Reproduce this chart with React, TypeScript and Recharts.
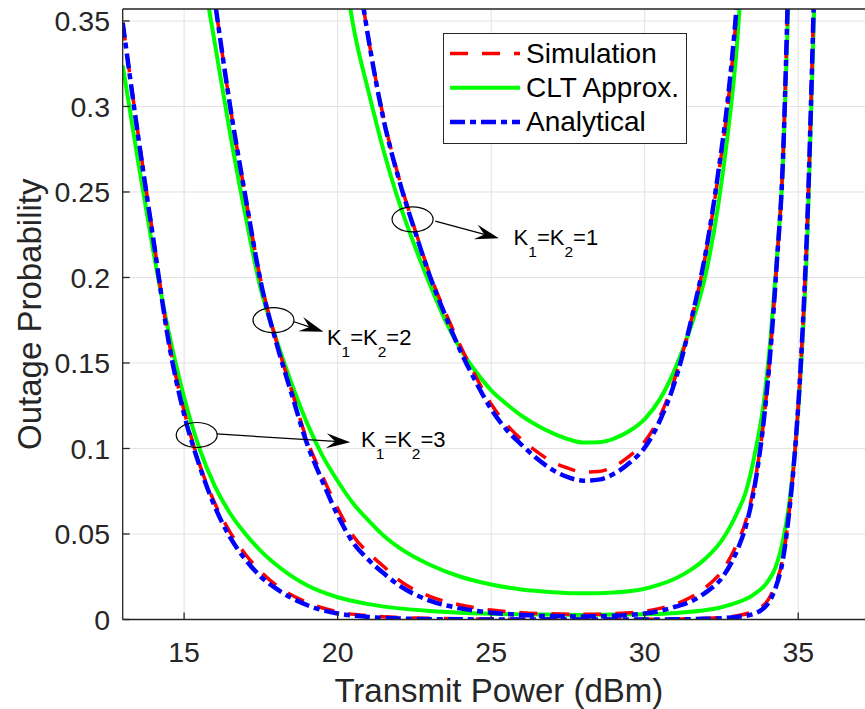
import React from "react";
import {
  LineChart,
  Line,
  XAxis,
  YAxis,
  CartesianGrid,
  ReferenceDot,
  ReferenceLine,
} from "recharts";

const xTicks = [15, 20, 25, 30, 35];
const yTicks = [0, 0.05, 0.1, 0.15, 0.2, 0.25, 0.3, 0.35];

// K1 = K2 = 3
const k3Power = [13, 13.5, 14, 14.5, 15, 15.5, 16, 16.5, 17, 17.5, 18, 19, 20, 21, 22, 23, 24, 26, 28, 30, 31, 32, 32.5, 33, 33.5, 34, 34.25, 34.5, 34.7, 34.9, 35.1, 35.3, 35.5, 35.7];
const k3Sim = [0.349, 0.284, 0.223, 0.163, 0.122, 0.091, 0.068, 0.051, 0.038, 0.028, 0.02, 0.01, 0.0045, 0.0022, 0.0012, 0.0007, 0.0004, 0.0002, 0.0002, 0.0002, 0.0003, 0.0007, 0.0012, 0.0022, 0.0045, 0.011, 0.02, 0.036, 0.062, 0.1, 0.155, 0.235, 0.357, 0.5];
const k3Clt = [0.324, 0.268, 0.215, 0.168, 0.13, 0.1, 0.078, 0.062, 0.05, 0.04, 0.032, 0.02, 0.013, 0.009, 0.0065, 0.005, 0.004, 0.003, 0.0027, 0.003, 0.0038, 0.0055, 0.0072, 0.0098, 0.014, 0.022, 0.03, 0.046, 0.067, 0.1, 0.15, 0.225, 0.345, 0.5];
const k3Ana = [0.349, 0.283, 0.222, 0.162, 0.12, 0.09, 0.066, 0.048, 0.035, 0.025, 0.018, 0.0085, 0.0035, 0.0015, 0.0006, 0.0002, 0.0001, 0, 0, 0, 0.0001, 0.0004, 0.0008, 0.0015, 0.003, 0.009, 0.018, 0.035, 0.062, 0.1, 0.155, 0.235, 0.357, 0.5];

// K1 = K2 = 2
const k2Power = [15.5, 16, 16.5, 17, 17.5, 18, 18.5, 19, 19.5, 20, 20.5, 21, 21.5, 22, 23, 24, 25, 26, 27, 28, 29, 30, 30.5, 31, 31.5, 32, 32.5, 33, 33.3, 33.6, 33.9, 34.1, 34.3, 34.5, 34.65, 34.8];
const k2Sim = [0.43, 0.362, 0.3, 0.247, 0.198, 0.163, 0.134, 0.105, 0.084, 0.065, 0.049, 0.039, 0.031, 0.023, 0.0135, 0.0085, 0.0055, 0.004, 0.0033, 0.003, 0.0034, 0.0048, 0.0065, 0.009, 0.013, 0.019, 0.028, 0.044, 0.058, 0.082, 0.12, 0.158, 0.208, 0.268, 0.357, 0.46];
const k2Clt = [0.39, 0.337, 0.284, 0.236, 0.193, 0.164, 0.138, 0.115, 0.096, 0.081, 0.068, 0.058, 0.049, 0.042, 0.032, 0.025, 0.0205, 0.0175, 0.016, 0.0153, 0.0158, 0.018, 0.0205, 0.024, 0.029, 0.036, 0.046, 0.062, 0.075, 0.098, 0.13, 0.165, 0.21, 0.265, 0.345, 0.45];
const k2Ana = [0.43, 0.362, 0.3, 0.247, 0.197, 0.162, 0.132, 0.103, 0.081, 0.061, 0.045, 0.035, 0.027, 0.02, 0.011, 0.0065, 0.004, 0.0027, 0.002, 0.0018, 0.0022, 0.0035, 0.005, 0.0075, 0.0105, 0.016, 0.024, 0.04, 0.055, 0.08, 0.12, 0.158, 0.208, 0.268, 0.357, 0.46];

// K1 = K2 = 1
const k1Power = [20, 20.5, 21, 21.5, 22, 22.5, 23, 23.5, 24, 24.5, 25, 25.5, 26, 26.5, 27, 27.5, 28, 28.5, 29, 29.5, 30, 30.5, 31, 31.5, 32, 32.4, 32.7, 33, 33.3];
const k1Sim = [0.47, 0.4, 0.34, 0.293, 0.258, 0.229, 0.202, 0.18, 0.16, 0.142, 0.126, 0.114, 0.105, 0.098, 0.092, 0.0885, 0.0862, 0.0865, 0.0895, 0.0955, 0.104, 0.119, 0.142, 0.174, 0.215, 0.26, 0.3, 0.357, 0.44];
const k1Clt = [0.41, 0.348, 0.309, 0.274, 0.244, 0.219, 0.196, 0.175, 0.158, 0.145, 0.134, 0.126, 0.119, 0.1135, 0.109, 0.1055, 0.1035, 0.1037, 0.1058, 0.1102, 0.1172, 0.129, 0.147, 0.171, 0.203, 0.243, 0.283, 0.335, 0.42];
const k1Ana = [0.47, 0.4, 0.34, 0.292, 0.257, 0.228, 0.201, 0.178, 0.157, 0.139, 0.123, 0.111, 0.102, 0.094, 0.0875, 0.0832, 0.0812, 0.0818, 0.0852, 0.0915, 0.1005, 0.1165, 0.14, 0.174, 0.216, 0.262, 0.303, 0.36, 0.44];

// annotation anchors, in data units
const notes = [
  { k: "1", ring: [22.44, 0.234], from: [23.18, 0.233], to: [25.25, 0.2229], text: [25.73, 0.219] },
  { k: "2", ring: [17.91, 0.1751], from: [18.58, 0.1741], to: [19.54, 0.1683], text: [19.65, 0.1605] },
  { k: "3", ring: [15.41, 0.1079], from: [16.06, 0.1085], to: [20.41, 0.1036], text: [20.76, 0.1011] },
];

const FONT = "'Liberation Sans', Arial, Helvetica, sans-serif";
const AXIS = "#262626";
const RED = "#ff0000";
const GREEN = "#00ff00";
const BLUE = "#0000ff";
const SIM_DASH = "18 14";
const ANA_DASH = "15 5 6 5";

const pts = (xs: number[], ys: number[]) => xs.map((x, i) => ({ x, y: ys[i] }));

const curves = [
  { key: "k3", x: k3Power, sim: k3Sim, clt: k3Clt, ana: k3Ana },
  { key: "k2", x: k2Power, sim: k2Sim, clt: k2Clt, ana: k2Ana },
  { key: "k1", x: k1Power, sim: k1Sim, clt: k1Clt, ana: k1Ana },
];

const Arrow = (p: any) => {
  const { x1, y1, x2, y2 } = p;
  const a = Math.atan2(y2 - y1, x2 - x1);
  const ux = Math.cos(a);
  const uy = Math.sin(a);
  const L = 24;
  const W = 7.5;
  const N = 15;
  const bx = x2 - ux * L;
  const by = y2 - uy * L;
  const nx = x2 - ux * N;
  const ny = y2 - uy * N;
  const poly = [
    [x2, y2],
    [bx - uy * W, by + ux * W],
    [nx, ny],
    [bx + uy * W, by - ux * W],
  ]
    .map((q) => q.join(","))
    .join(" ");
  return (
    <g>
      <line x1={x1} y1={y1} x2={nx} y2={ny} stroke="#000" strokeWidth={1.2} />
      <polygon points={poly} fill="#000" />
    </g>
  );
};

const Ring = (p: any) => (
  <ellipse cx={p.cx} cy={p.cy} rx={20.5} ry={12.5} fill="none" stroke="#000" strokeWidth={1.2} />
);

const noteText = (k: string) => (p: any) => (
  <text x={p.cx} y={p.cy} fontFamily={FONT} fontSize={22} fill="#000">
    K
    <tspan dy={12} fontSize={15.5}>1</tspan>
    <tspan dy={-12}>=K</tspan>
    <tspan dy={12} fontSize={15.5}>2</tspan>
    <tspan dy={-12}>={k}</tspan>
  </text>
);

const legendRows = [
  { name: "Simulation", color: RED, dash: SIM_DASH, width: 3.5 },
  { name: "CLT Approx.", color: GREEN, dash: undefined, width: 4 },
  { name: "Analytical", color: BLUE, dash: ANA_DASH, width: 4.5 },
];

export default function App() {
  return (
    <div
      style={{
        position: "absolute",
        left: 0,
        top: 0,
        width: 865,
        height: 709,
        overflow: "hidden",
        background: "#fff",
      }}
    >
      <LineChart width={880} height={709} margin={{ top: 0, right: 5, bottom: 0, left: 0 }}>
        <CartesianGrid stroke="#e2e2e2" strokeWidth={1} />
        <XAxis
          xAxisId="top"
          orientation="top"
          type="number"
          dataKey="x"
          domain={[13, 37.5]}
          ticks={xTicks}
          height={9}
          allowDataOverflow
          tick={false}
          tickSize={-7}
          axisLine={{ stroke: AXIS, strokeWidth: 1.3 }}
          tickLine={{ stroke: AXIS, strokeWidth: 1.3 }}
        />
        <XAxis
          type="number"
          dataKey="x"
          domain={[13, 37.5]}
          ticks={xTicks}
          height={89.5}
          allowDataOverflow
          tickSize={-7}
          tickMargin={29.5}
          axisLine={{ stroke: AXIS, strokeWidth: 1.3 }}
          tickLine={{ stroke: AXIS, strokeWidth: 1.3 }}
          tick={{ fill: AXIS, fontSize: 28.5, fontFamily: FONT }}
          label={{
            value: "Transmit Power (dBm)",
            position: "insideBottom",
            offset: 7,
            fill: AXIS,
            fontSize: 33,
            fontFamily: FONT,
          }}
        />
        <YAxis
          type="number"
          domain={[0, 0.357]}
          ticks={yTicks}
          width={122.7}
          allowDataOverflow
          tickSize={-7}
          tickMargin={19.7}
          axisLine={{ stroke: AXIS, strokeWidth: 1.3 }}
          tickLine={{ stroke: AXIS, strokeWidth: 1.3 }}
          tick={{ fill: AXIS, fontSize: 28.5, fontFamily: FONT }}
          label={{
            content: (props: any) => {
              const vb = props.viewBox || { x: 0, y: 0, width: 122.7, height: 610 };
              const cx = 29;
              const cy = vb.y + vb.height / 2;
              return (
                <text
                  x={cx}
                  y={cy}
                  transform={`rotate(-90 ${cx} ${cy})`}
                  textAnchor="middle"
                  dominantBaseline="central"
                  fontSize={33}
                  fontFamily={FONT}
                  fill={AXIS}
                >
                  Outage Probability
                </text>
              );
            },
          }}
        />
        {curves.map((c) => (
          <Line
            key={c.key + "clt"}
            data={pts(c.x, c.clt)}
            dataKey="y"
            type="monotone"
            stroke={GREEN}
            strokeWidth={4}
            dot={false}
            activeDot={false}
            isAnimationActive={false}
          />
        ))}
        {curves.map((c) => (
          <Line
            key={c.key + "sim"}
            data={pts(c.x, c.sim)}
            dataKey="y"
            type="monotone"
            stroke={RED}
            strokeWidth={3.5}
            strokeDasharray={SIM_DASH}
            dot={false}
            activeDot={false}
            isAnimationActive={false}
          />
        ))}
        {curves.map((c) => (
          <Line
            key={c.key + "ana"}
            data={pts(c.x, c.ana)}
            dataKey="y"
            type="monotone"
            stroke={BLUE}
            strokeWidth={4.5}
            strokeDasharray={ANA_DASH}
            dot={false}
            activeDot={false}
            isAnimationActive={false}
          />
        ))}
        {notes.map((n) => (
          <ReferenceDot key={"r" + n.k} x={n.ring[0]} y={n.ring[1]} shape={Ring} />
        ))}
        {notes.map((n) => (
          <ReferenceLine
            key={"a" + n.k}
            segment={[
              { x: n.from[0], y: n.from[1] },
              { x: n.to[0], y: n.to[1] },
            ]}
            shape={Arrow}
          />
        ))}
        {notes.map((n) => (
          <ReferenceDot key={"t" + n.k} x={n.text[0]} y={n.text[1]} shape={noteText(n.k)} />
        ))}
      </LineChart>
      <svg
        width={244}
        height={111}
        style={{ position: "absolute", left: 442.5, top: 32.5 }}
      >
        <rect x={0.5} y={0.5} width={243} height={110} fill="#fff" stroke="#262626" strokeWidth={1} />
        {legendRows.map((r, i) => (
          <g key={r.name}>
            <line
              x1={7}
              x2={77}
              y1={20.5 + i * 34.2}
              y2={20.5 + i * 34.2}
              stroke={r.color}
              strokeWidth={r.width}
              strokeDasharray={r.dash}
            />
            <text x={83} y={20.5 + i * 34.2 + 9.5} fontSize={28} fontFamily={FONT} fill="#000">
              {r.name}
            </text>
          </g>
        ))}
      </svg>
    </div>
  );
}
